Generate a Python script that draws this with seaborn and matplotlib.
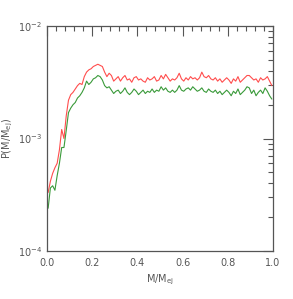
import numpy as np
import pandas as pd
import matplotlib
matplotlib.use("Agg")
import matplotlib.pyplot as plt
import seaborn as sns
from matplotlib.ticker import LogLocator, MultipleLocator, NullFormatter

# bin centres of M/M_ej
x_vals = np.round(np.arange(0.005, 1.0, 0.01), 3)

# log10 P for the red curve
red_log = [
    -3.48, -3.38, -3.31, -3.26, -3.22, -3.10, -2.92, -3.00, -2.80, -2.66,
    -2.61, -2.59, -2.56, -2.53, -2.51, -2.52, -2.45, -2.41, -2.39, -2.38,
    -2.36, -2.35, -2.34, -2.35, -2.36, -2.41, -2.45, -2.42, -2.44, -2.49,
    -2.47, -2.45, -2.49, -2.46, -2.44, -2.48, -2.47, -2.50, -2.46, -2.45,
    -2.48, -2.47, -2.49, -2.50, -2.46, -2.48, -2.47, -2.45, -2.49, -2.48,
    -2.44, -2.47, -2.43, -2.46, -2.49, -2.47, -2.48, -2.46, -2.42, -2.47,
    -2.49, -2.46, -2.48, -2.45, -2.47, -2.46, -2.48, -2.46, -2.41, -2.45,
    -2.46, -2.44, -2.47, -2.48, -2.46, -2.49, -2.47, -2.50, -2.48, -2.46,
    -2.48, -2.51, -2.47, -2.49, -2.45, -2.50, -2.48, -2.46, -2.44, -2.44,
    -2.46, -2.48, -2.47, -2.50, -2.46, -2.48, -2.47, -2.45, -2.49, -2.53,
]

# log10 P for the green curve
green_log = [
    -3.62, -3.44, -3.42, -3.46, -3.33, -3.22, -3.08, -3.08, -2.93, -2.77,
    -2.73, -2.70, -2.68, -2.64, -2.62, -2.59, -2.55, -2.49, -2.52, -2.50,
    -2.47, -2.46, -2.44, -2.45, -2.48, -2.53, -2.55, -2.54, -2.57, -2.60,
    -2.58, -2.57, -2.60, -2.58, -2.55, -2.59, -2.61, -2.59, -2.56, -2.58,
    -2.61, -2.59, -2.57, -2.60, -2.58, -2.59, -2.56, -2.59, -2.57, -2.58,
    -2.54, -2.57, -2.55, -2.58, -2.59, -2.57, -2.59, -2.57, -2.53, -2.57,
    -2.58, -2.56, -2.55, -2.57, -2.54, -2.56, -2.58, -2.57, -2.55, -2.58,
    -2.59, -2.56, -2.58, -2.59, -2.57, -2.60, -2.58, -2.61, -2.59, -2.57,
    -2.59, -2.62, -2.58, -2.60, -2.56, -2.61, -2.59, -2.57, -2.54, -2.55,
    -2.60, -2.57, -2.62, -2.59, -2.57, -2.60, -2.55, -2.58, -2.62, -2.65,
]

df = pd.DataFrame({
    "x": np.concatenate([x_vals, x_vals]),
    "P": np.concatenate([10.0 ** np.array(red_log), 10.0 ** np.array(green_log)]),
    "series": ["red"] * len(x_vals) + ["green"] * len(x_vals),
})

sns.set_style("white")
plt.rcParams["font.family"] = ["DejaVu Sans"]

fig = plt.figure(figsize=(2.93, 2.99), dpi=100)
ax = fig.add_axes([47 / 293, 1 - 251 / 299, 226 / 293, 225 / 299])

sns.lineplot(data=df, x="x", y="P", hue="series",
             palette={"red": "#ff4d4d", "green": "#3a9a3a"},
             linewidth=0.8, legend=False, ax=ax)

ax.set_yscale("log")
ax.set_xlim(0, 1)
ax.set_ylim(1e-4, 1e-2)

gray = "#555555"
for s in ax.spines.values():
    s.set_color(gray)
    s.set_linewidth(0.9)

ax.xaxis.set_major_locator(MultipleLocator(0.2))
ax.xaxis.set_minor_locator(MultipleLocator(0.04))
ax.yaxis.set_major_locator(LogLocator(base=10, numticks=5))
ax.yaxis.set_minor_locator(LogLocator(base=10, subs=np.arange(2, 10), numticks=20))
ax.yaxis.set_minor_formatter(NullFormatter())
ax.xaxis.set_major_formatter(matplotlib.ticker.FormatStrFormatter("%.1f"))

ax.tick_params(axis="both", which="both", direction="in", top=True, right=True,
               color=gray, labelcolor=gray, labelsize=7, width=0.8)
ax.tick_params(axis="both", which="major", length=7)
ax.tick_params(axis="both", which="minor", length=3.5)
ax.tick_params(axis="x", which="major", pad=5)

ax.set_xlabel("M/M$_{\\rm ej}$", color=gray, fontsize=7, labelpad=3)
ax.set_ylabel("P(M/M$_{\\rm ej}$)", color=gray, fontsize=7, labelpad=2)

fig.savefig("out.png", dpi=100)
